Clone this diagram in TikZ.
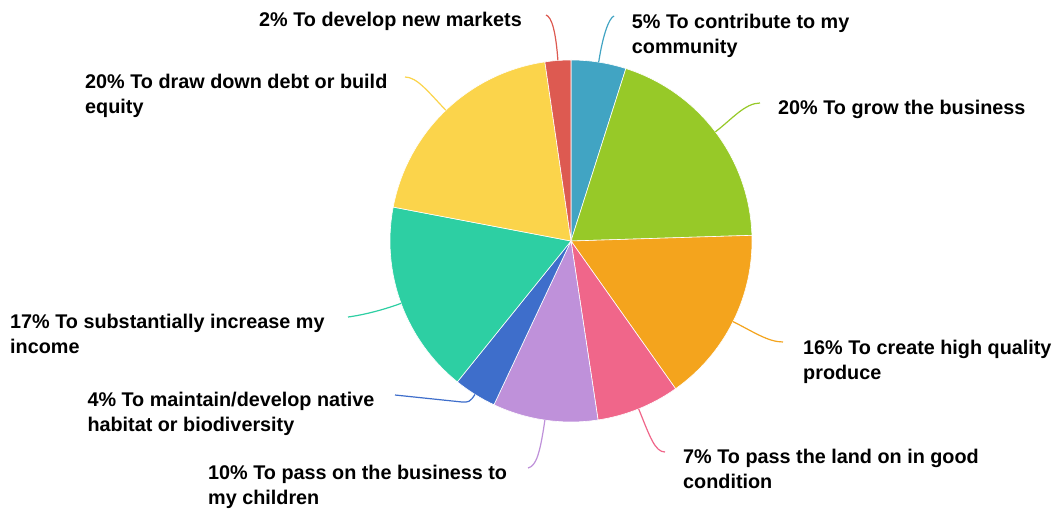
\documentclass[tikz,border=0pt]{standalone}
\usepackage{fontspec}
\setmainfont{Liberation Sans}
\definecolor{cComm}{HTML}{41A4C3}
\definecolor{cGrow}{HTML}{97C928}
\definecolor{cProduce}{HTML}{F4A41D}
\definecolor{cLand}{HTML}{F0668A}
\definecolor{cChildren}{HTML}{BF91DA}
\definecolor{cBio}{HTML}{3E6ECB}
\definecolor{cIncome}{HTML}{2DCFA3}
\definecolor{cDebt}{HTML}{FBD44B}
\definecolor{cMarkets}{HTML}{DD5A51}
\begin{document}
\begin{tikzpicture}[x=1pt, y=-1pt,
    slice/.style={draw=white, line width=0.6pt},
    lead/.style={line width=1.2pt},
    lbl/.style={anchor=base west, align=left, inner sep=0pt,
        font=\bfseries\fontsize{19.8}{25}\selectfont}]
    \useasboundingbox[fill=white] (0,0) rectangle (1056,513);
    \coordinate (c) at (571,241);

    % Slices, clockwise from the top
    \filldraw[slice, fill=cComm] (c) -- ++(-90:181) arc[start angle=-90, end angle=-72.36, radius=181] -- cycle;
    \filldraw[slice, fill=cGrow] (c) -- ++(-72.36:181) arc[start angle=-72.36, end angle=-1.8, radius=181] -- cycle;
    \filldraw[slice, fill=cProduce] (c) -- ++(-1.8:181) arc[start angle=-1.8, end angle=54.7, radius=181] -- cycle;
    \filldraw[slice, fill=cLand] (c) -- ++(54.7:181) arc[start angle=54.7, end angle=81.4, radius=181] -- cycle;
    \filldraw[slice, fill=cChildren] (c) -- ++(81.4:181) arc[start angle=81.4, end angle=115.2, radius=181] -- cycle;
    \filldraw[slice, fill=cBio] (c) -- ++(115.2:181) arc[start angle=115.2, end angle=128.9, radius=181] -- cycle;
    \filldraw[slice, fill=cIncome] (c) -- ++(128.9:181) arc[start angle=128.9, end angle=190.8, radius=181] -- cycle;
    \filldraw[slice, fill=cDebt] (c) -- ++(190.8:181) arc[start angle=190.8, end angle=261.7, radius=181] -- cycle;
    \filldraw[slice, fill=cMarkets] (c) -- ++(261.7:181) arc[start angle=261.7, end angle=270, radius=181] -- cycle;

    % Labels (base = last line)
    \node[lbl] (nMarkets) at (259,26.7) {2\% To develop new markets};
    \node[lbl] (nComm) at (631.7,53.3) {5\% To contribute to my\\community};
    \node[lbl] (nGrow) at (778,115) {20\% To grow the business};
    \node[lbl] (nProduce) at (803,379.3) {16\% To create high quality\\produce};
    \node[lbl] (nLand) at (683,488.3) {7\% To pass the land on in good\\condition};
    \node[lbl] (nChildren) at (208,504) {10\% To pass on the business to\\my children};
    \node[lbl] (nBio) at (87.3,431.7) {4\% To maintain/develop native\\habitat or biodiversity};
    \node[lbl] (nIncome) at (10,353) {17\% To substantially increase my\\income};
    \node[lbl] (nDebt) at (85,113.3) {20\% To draw down debt or build\\equity};

    % Leader lines
    \path (c) ++(265.85:181) coordinate (sMarkets);
    \path (c) ++(-81.2:181) coordinate (sComm);
    \path (c) ++(-37.1:181) coordinate (sGrow);
    \path (c) ++(26.45:181) coordinate (sProduce);
    \path (c) ++(68.05:181) coordinate (sLand);
    \path (c) ++(98.3:181) coordinate (sChildren);
    \path (c) ++(122.05:181) coordinate (sBio);
    \path (c) ++(159.85:181) coordinate (sIncome);
    \path (c) ++(226.25:181) coordinate (sDebt);
    \coordinate (eMarkets) at (546,15);
    \coordinate (eComm) at (614,16);
    \coordinate (eGrow) at (760,103);
    \coordinate (eProduce) at (783,342);
    \coordinate (eLand) at (665,452);
    \coordinate (eChildren) at (528,468);
    \coordinate (kBio) at (462,402);
    \coordinate (eBio) at (395,395);
    \coordinate (eIncome) at (348,317);
    \coordinate (eDebt) at (405,77);
    \draw[lead, cMarkets] (sMarkets) .. controls +(265.85:28) and +(6,2) .. (eMarkets);
    \draw[lead, cComm] (sComm) .. controls +(-81.2:28) and +(-5,2) .. (eComm);
    \draw[lead, cGrow] (sGrow) .. controls +(-37.1:20) and +(-15,0) .. (eGrow);
    \draw[lead, cProduce] (sProduce) .. controls +(26.45:22) and +(-15,0) .. (eProduce);
    \draw[lead, cLand] (sLand) .. controls +(68.05:30) and +(-10,0) .. (eLand);
    \draw[lead, cChildren] (sChildren) .. controls +(98.3:35) and +(8,-2) .. (eChildren);
    \draw[lead, cBio] (sBio) .. controls +(122.05:9) and +(6,0.5) .. (kBio) -- (eBio);
    \draw[lead, cIncome] (sIncome) .. controls +(159.85:20) and +(15,-2) .. (eIncome);
    \draw[lead, cDebt] (sDebt) .. controls +(226.25:25) and +(12,0) .. (eDebt);
\end{tikzpicture}
\end{document}
